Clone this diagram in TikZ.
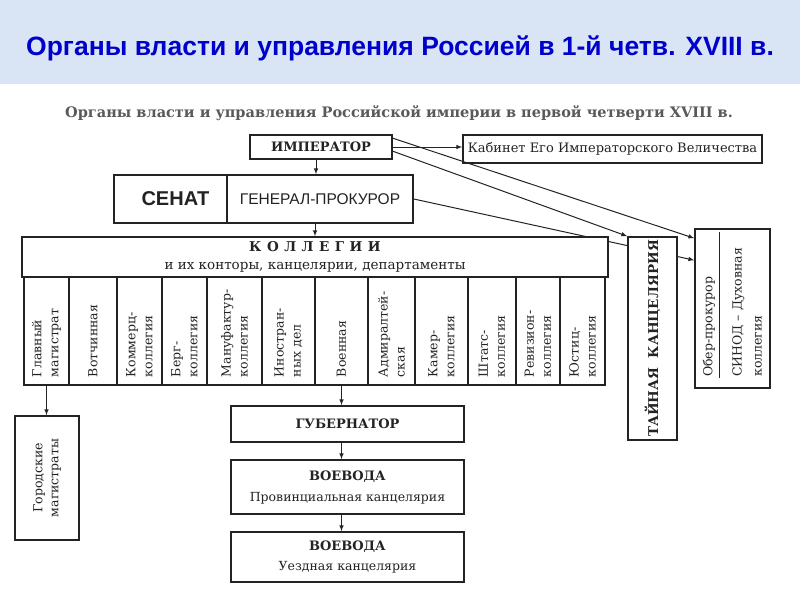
\documentclass[tikz,border=0pt]{standalone}
\usepackage{fontspec}
\setmainfont{DejaVu Serif}
\newfontfamily\headfont{Liberation Sans}
\definecolor{bandblue}{RGB}{217,229,245}
\definecolor{titleblue}{RGB}{0,0,205}
\definecolor{ink}{RGB}{35,35,35}
\begin{document}
\begin{tikzpicture}[x=1pt, y=1pt,
box/.style={draw=ink, line width=1.6pt, fill=white, text=ink, inner sep=2pt, align=center},
col/.style={box, rotate=90, minimum width=108pt, text width=92pt, inner xsep=8pt, inner ysep=0pt,
  align=left, font=\fontsize{12.5}{17}\selectfont},
vlabel/.style={rotate=90, anchor=west, inner sep=0pt, text=ink, align=left},
link/.style={->, >=latex, line width=1pt, draw=ink}]
\useasboundingbox (0,0) rectangle (800,-600);
\fill[bandblue] (0,0) rectangle (800,-84);
\node (title) at (400,-48) [font=\headfont\bfseries\fontsize{26.5}{30}\selectfont, text=titleblue]
    {Органы власти и управления Россией в 1-й четв. XVIII в.};
\node (subtitle) at (399,-113) [font=\bfseries\fontsize{14.5}{17}\selectfont, text=black!65]
    {Органы власти и управления Российской империи в первой четверти XVIII в.};
% top level
\node (imp) [box, minimum width=142pt, minimum height=24pt, font=\bfseries\fontsize{13}{15}\selectfont]
    at (321,-147) {ИМПЕРАТОР};
\node (kab) [box, minimum width=299pt, minimum height=28pt, font=\fontsize{13}{15}\selectfont]
    at (612.5,-149) {Кабинет Его Императорского Величества};
\node (sen) [box, minimum width=113pt, minimum height=48pt, font=\headfont\bfseries\fontsize{20}{22}\selectfont]
    at (170.5,-199) {\hspace{10pt}СЕНАТ};
\node (gp) [box, minimum width=186pt, minimum height=48pt, font=\headfont\fontsize{15.5}{17}\selectfont]
    at (320,-199) {ГЕНЕРАЛ-ПРОКУРОР};
% synod
\node (sin) [box, minimum width=75pt, minimum height=159pt] at (732.5,-308.5) {};
\node (ober) [vlabel, font=\fontsize{12.5}{15}\selectfont] at (709,-377) {Обер-прокурор};
\node (synod) [vlabel, font=\fontsize{12.5}{20}\selectfont] at (747,-377) {СИНОД – Духовная\\коллегия};
\draw[ink, line width=0.7pt] (719,-232) -- (719,-378);
\draw[link] (gp.east) -- ([yshift=-32pt]sin.north west);
% colleges
\node (kol) [box, minimum width=586pt, minimum height=40pt, font=\fontsize{13.5}{18}\selectfont]
    at (315,-257) {{\bfseries К\hspace{5.5pt}О\hspace{5.5pt}Л\hspace{5.5pt}Л\hspace{5.5pt}Е\hspace{5.5pt}Г\hspace{5.5pt}И\hspace{5.5pt}И}\\и их конторы, канцелярии, департаменты};
\node (taj) [box, rotate=90, minimum width=203pt, minimum height=49pt, font=\bfseries\fontsize{13.5}{16}\selectfont]
    at (652.5,-338.5) {ТАЙНАЯ~ КАНЦЕЛЯРИЯ};
\node (c1) [col, minimum height=45pt] at (46.5,-331) {Главный\\магистрат};
\node (c2) [col, minimum height=48pt] at (93,-331) {Вотчинная};
\node (c3) [col, minimum height=45pt] at (139.5,-331) {Коммерц-\\коллегия};
\node (c4) [col, minimum height=45pt] at (184.5,-331) {Берг-\\коллегия};
\node (c5) [col, minimum height=55pt] at (234.5,-331) {Мануфактур-\\коллегия};
\node (c6) [col, minimum height=53pt] at (288.5,-331) {Иностран-\\ных дел};
\node (c7) [col, minimum height=53pt] at (341.5,-331) {Военная};
\node (c8) [col, minimum height=47pt] at (391.5,-331) {Адмиралтей-\\ская};
\node (c9) [col, minimum height=53pt] at (441.5,-331) {Камер-\\коллегия};
\node (c10) [col, minimum height=48pt] at (492,-331) {Штатс-\\коллегия};
\node (c11) [col, minimum height=44pt] at (538,-331) {Ревизион-\\коллегия};
\node (c12) [col, minimum height=45pt] at (582.5,-331) {Юстиц-\\коллегия};
% local government
\node (gor) [box, rotate=90, minimum width=124pt, minimum height=64pt, font=\fontsize{12.5}{16}\selectfont]
    at (47,-478) {Городские\\магистраты};
\node (gub) [box, minimum width=233pt, minimum height=36pt, font=\bfseries\fontsize{13}{15}\selectfont]
    at (347.5,-424) {ГУБЕРНАТОР};
\node (voe1) [box, minimum width=233pt, minimum height=54pt, font=\fontsize{12.5}{21}\selectfont]
    at (347.5,-487) {\textbf{\fontsize{13}{15}\selectfont ВОЕВОДА}\\Провинциальная канцелярия};
\node (voe2) [box, minimum width=233pt, minimum height=50pt, font=\fontsize{12.5}{20}\selectfont]
    at (347.5,-557) {\textbf{\fontsize{13}{15}\selectfont ВОЕВОДА}\\Уездная канцелярия};
% connectors (rotated nodes: .west is the bottom, .east the top)
\draw[link] (imp.east) -- (imp.east -| kab.west);
\draw[link] ([xshift=-5pt]imp.south) -- ([xshift=-5pt]imp.south |- gp.north);
\draw[link] ([xshift=-5pt]gp.south) -- ([xshift=-5pt]gp.south |- kol.north);
\draw[link] ([yshift=-17pt]imp.north east) -- (taj.north east);
\draw[link] ([yshift=-4pt]imp.north east) -- ([yshift=-10pt]sin.north west);
\draw[link] (c1.west) -- (c1.west |- gor.east);
\draw[link] (c7.west) -- (c7.west |- gub.north);
\draw[link] ([xshift=-6pt]gub.south) -- ([xshift=-6pt]gub.south |- voe1.north);
\draw[link] ([xshift=-6pt]voe1.south) -- ([xshift=-6pt]voe1.south |- voe2.north);
\end{tikzpicture}
\end{document}
